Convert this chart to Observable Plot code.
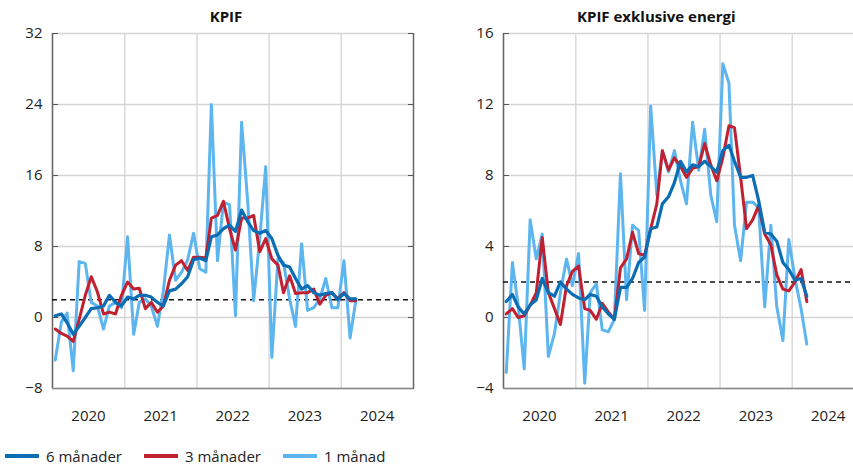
<!DOCTYPE html>
<html><head><meta charset="utf-8">
<script src="https://cdn.jsdelivr.net/npm/d3@7"></script>
<script src="https://cdn.jsdelivr.net/npm/@observablehq/plot@0.6"></script>
<style>
body{margin:0;width:853px;height:469px;overflow:hidden;position:relative;font-family:"Open Sans",sans-serif;background:#fff}
.p{position:absolute;top:0}
.p svg{max-width:none !important}
.t{position:absolute;top:6px;font-weight:bold;font-size:15px;color:#111}
#leg{position:absolute;top:446px;left:5px;font-size:15px;color:#222;display:flex;gap:22px}
#leg span{display:flex;align-items:center;gap:7px}
#leg i{display:inline-block;width:34px;height:4px}
</style></head><body>
<div class="t" style="left:0;width:452px;text-align:center">KPIF</div>
<div class="t" style="left:577px">KPIF exklusive energi</div>
<div id="a" class="p" style="left:0;width:430px"></div>
<div id="b" class="p" style="left:440px;width:440px"></div>
<div id="leg"><span><i style="background:#0b6db3"></i>6 månader</span><span><i style="background:#c0202f"></i>3 månader</span><span><i style="background:#5cb5ef"></i>1 månad</span></div>
<script>
const years = [2020, 2021, 2022, 2023, 2024];
const kpif1 = [-4.8,-0.5,0.5,-6,6.3,6.1,1.7,1.3,-1.3,1.3,1.7,1.1,9.1,-1.9,1.7,2.1,1.3,-1,3,9.3,4.2,5.1,6.5,9.5,5.5,5.1,24,6.4,13,12.7,0.2,22,13,1.9,8.9,17,-4.5,6.6,6.2,2.1,-1,8.3,0.8,1.1,2.1,4.4,1.1,1.1,6.4,-2.3,1.9];
const kpif3 = [-1.3,-1.8,-2.1,-2.7,-0.2,2.5,4.6,2.9,0.4,0.6,0.4,2.5,4,3.2,3.3,1,1.7,0.6,1.3,4.2,5.9,6.4,5.3,6.8,6.8,6.7,11.2,11.5,13.1,10,7.6,11.2,11.2,11.5,7.4,8.9,6.6,5.9,2.8,4.7,2.7,2.8,2.8,3.2,1.5,2.5,2.8,2.1,2.8,1.9,1.9];
const kpif6 = [0.2,0.4,-0.6,-1.9,-1,0,1,1.1,1.3,2.5,1.7,1.3,2.3,2.1,2.5,2.5,2.3,1.7,1.3,3,3.2,3.8,4.6,6.5,6.7,6.4,9.1,9.3,10,10.4,9.7,12.1,10.8,9.8,9.5,9.8,8.9,7,5.9,5.7,4.4,3.2,3.6,2.8,2.5,2.7,2.8,2,2.7,2.1,2.1];
const ex1 = [-3.1,3.1,0.7,-2.9,5.5,3.3,4.7,-2.2,-0.9,1.4,3.3,1.8,3.6,-3.7,1.4,1.9,-0.7,-0.8,-0.1,8.1,1,5.2,4.9,0.4,11.9,6.9,9.4,8.2,9.4,7.7,6.4,11,8.3,10.6,6.9,5.4,14.3,13.2,5.2,3.2,6.5,6.5,6.2,0.6,5.2,0.6,-1.3,4.4,2.2,0.5,-1.5];
const ex3 = [0.2,0.5,0,0.1,0.7,1.4,4.5,1.4,0.5,-0.4,1.8,2.6,2.9,0.5,0.4,-0.1,0.8,0.3,-0.1,2.8,3.3,4.8,3.6,3.5,5,6.4,9.4,8.3,9,8.5,7.9,8.4,8.5,9.8,8.6,7.7,9,10.8,10.7,7.9,5,5.5,6.3,4.7,4.1,2.4,1.6,1.5,2,2.7,0.9];
const ex6 = [0.9,1.3,0.6,0.2,0.7,1,2.2,1.4,1.2,2,1.6,1.3,1.1,1,1.3,1.2,0.6,0.2,-0.1,1.7,1.7,2.2,3.1,3.4,5,5.1,6.4,6.8,7.6,8.8,8.2,8.6,8.5,8.8,8.5,8.2,9.4,9.7,8.8,7.9,7.9,8,6.6,4.8,4.7,4.3,3.1,2.7,2.1,2.2,1.2];
const target = 2;
const yTicksA = [-8,0,8,16,24,32], yTicksB = [-4,0,4,8,12,16];
const C = {s6:"#0b6db3", s3:"#c0202f", s1:"#5cb5ef"};
const dates = kpif1.map((_, i) => new Date(Date.UTC(2020, i, 15)));
const rows = (a,b,c) => dates.map((d,i)=>({d, s1:a[i], s3:b[i], s6:c[i]}));
function panel(el, data, dom, ticks, ml, w){
  const yearStarts = years.map(y=>new Date(Date.UTC(y,0,1)));
  const mids = years.map(y=>new Date(Date.UTC(y,6,1)));
  const end = new Date(Date.UTC(2025,0,1));
  const p = Plot.plot({
    width:w, height:469, marginLeft:ml, marginRight:w-ml-361, marginTop:33, marginBottom:81,
    style:{fontFamily:"Open Sans", fontSize:"15px", color:"#222"},
    x:{type:"utc", domain:[yearStarts[0], end]},
    y:{domain:dom},
    marks:[
      Plot.ruleY(ticks,{stroke:"#d4d4d4", strokeWidth:1.3}),
      Plot.ruleX(yearStarts,{stroke:"#d4d4d4", strokeWidth:1.3}),
      Plot.axisX(mids,{tickSize:0, tickPadding:22, tickFormat:d=>String(d.getUTCFullYear()), fontSize:15, label:null}),
      Plot.axisY(ticks,{anchor:"left", tickSize:-6, tickPadding:16, label:null, fontSize:15, stroke:"#555"}),
      Plot.axisY(ticks,{anchor:"right", tickSize:-6, tickFormat:()=>"", label:null, stroke:"#555"}),
      Plot.ruleX([yearStarts[0], end],{stroke:"#666", strokeWidth:1.5}),
      Plot.ruleY([dom[0]],{stroke:"#888", strokeWidth:1.5}),
      Plot.ruleY([target],{stroke:"#111", strokeDasharray:"5,4", strokeWidth:1.3}),
      Plot.lineY(data,{x:"d", y:"s1", stroke:C.s1, strokeWidth:3}),
      Plot.lineY(data,{x:"d", y:"s3", stroke:C.s3, strokeWidth:3}),
      Plot.lineY(data,{x:"d", y:"s6", stroke:C.s6, strokeWidth:3.2})
    ]
  });
  document.getElementById(el).append(p);
}
panel("a", rows(kpif1,kpif3,kpif6), [-8,32], yTicksA, 52, 430);
panel("b", rows(ex1,ex3,ex6), [-4,16], yTicksB, 63, 440);
</script></body></html>
